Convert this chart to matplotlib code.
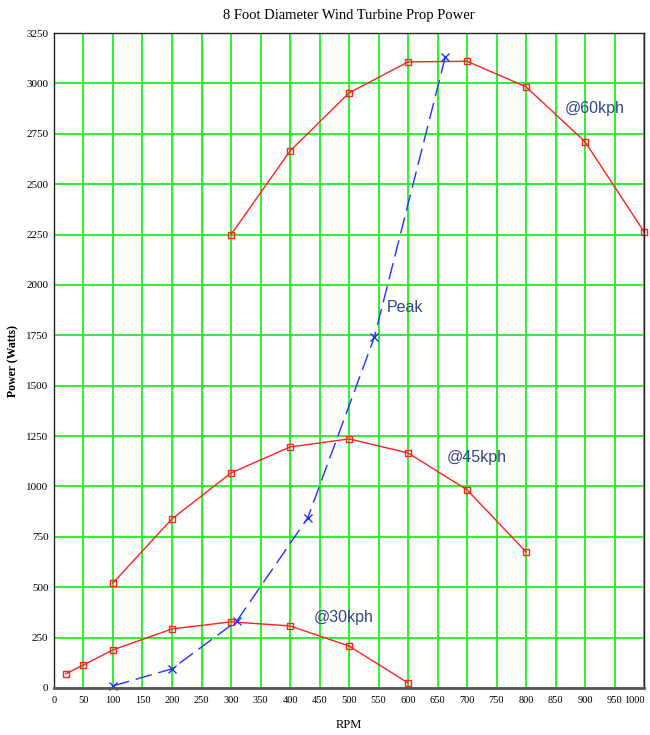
import numpy as np
import matplotlib.pyplot as plt

# Power curves
rpm_60 = [300, 400, 500, 600, 700, 800, 900, 1000]
watts_60 = [2250, 2665, 2953, 3107, 3110, 2983, 2710, 2263]

rpm_45 = [100, 200, 300, 400, 500, 600, 700, 800]
watts_45 = [521, 839, 1067, 1196, 1236, 1166, 983, 675]

rpm_30 = [20, 50, 100, 200, 300, 400, 500, 600]
watts_30 = [70, 114, 189, 293, 328, 308, 208, 25]

rpm_peak = [100, 200, 310, 430, 543, 663]
watts_peak = [10, 95, 333, 844, 1742, 3131]

labels = ["@60kph", "@45kph", "@30kph", "Peak"]
label_x = [917, 717, 491, 595]
label_y = [2878, 1146, 352, 1890]

serif = "Liberation Serif"
sans = "Liberation Sans"

fig = plt.figure(figsize=(6.5, 7.35), dpi=100)
ax = fig.add_axes([0.083, 0.064, 0.908, 0.891])

ax.set_xlim(0, 1000)
ax.set_ylim(0, 3250)
ax.set_xticks(np.arange(0, 1001, 50))
ax.set_yticks(np.arange(0, 3251, 250))
ax.grid(True, color="#22ee22", linewidth=1.3)
ax.set_axisbelow(True)

for x, y in [(rpm_60, watts_60), (rpm_45, watts_45), (rpm_30, watts_30)]:
    ax.plot(x, y, color="#ff2020", linewidth=1.0, marker="s", markersize=5,
            markerfacecolor="none", markeredgecolor="#ff2020", clip_on=False)

ax.plot(rpm_peak, watts_peak, color="#2030ff", linewidth=1.0,
        dashes=(12, 5), marker="x", markersize=6, clip_on=False)

for t, x, y in zip(labels, label_x, label_y):
    ax.text(x, y, t, color="#334488", fontsize=11.5, family=sans,
            ha="center", va="center")

ax.tick_params(axis="x", length=0, labelsize=7.5, pad=6)
ax.tick_params(axis="y", length=0, labelsize=8, pad=4)
for lab in ax.get_xticklabels() + ax.get_yticklabels():
    lab.set_family(serif)
ax.get_xticklabels()[-1].set_horizontalalignment("right")

for s in ax.spines.values():
    s.set_color("#222222")
    s.set_linewidth(1.0)
ax.spines["bottom"].set_color("#555555")
ax.spines["bottom"].set_linewidth(2)

ax.set_title("8 Foot Diameter Wind Turbine Prop Power", family=serif,
             fontsize=10.5, pad=10)
ax.set_xlabel("RPM", family=serif, fontsize=9, labelpad=10)
ax.set_ylabel("Power (Watts)", family=serif, fontsize=8.5, fontweight="bold",
              labelpad=5)

fig.savefig("out.png", dpi=100)
